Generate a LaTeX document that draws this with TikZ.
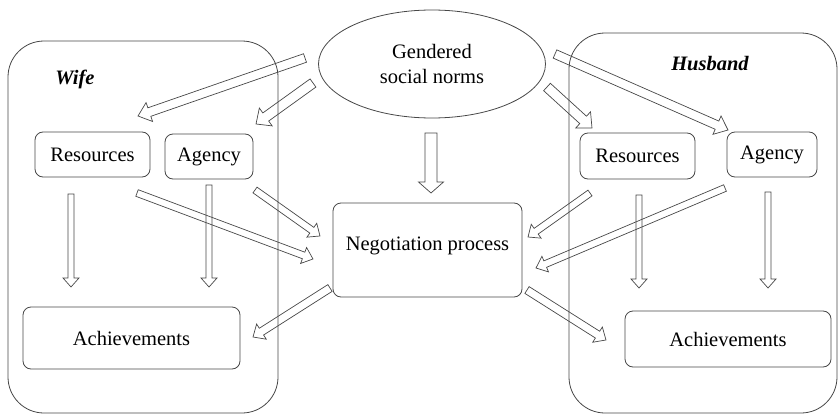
\documentclass[tikz,border=0pt]{standalone}
\usepackage{fontspec}
\setmainfont{Liberation Serif}
\usetikzlibrary{calc,shapes.geometric}
\newcommand{\dfont}{\fontsize{20.5}{25}\selectfont}
\tikzset{
  lc/.style={draw=black!72, line width=0.8pt},
  container/.style={lc, rounded corners=36pt},
  box/.style={lc, rounded corners=8pt, inner sep=0pt, align=center},
  arr/.style={draw=black!72, line width=0.7pt, line join=miter},
  lbl/.style={font=\dfont\bfseries\itshape}
}
\newcommand{\barrow}[5]{%
  \draw[arr] let \p1=(#1),\p2=(#2),\n1={atan2(\y2-\y1,\x2-\x1)},\n2={veclen(\x2-\x1,\y2-\y1)} in
  {[shift={(\p1)},rotate=\n1] (0pt,#3pt) -- (\n2-#5pt,#3pt) -- (\n2-#5pt,#4pt) -- (\n2,0pt) -- (\n2-#5pt,-#4pt) -- (\n2-#5pt,-#3pt) -- (0pt,-#3pt) -- cycle};}
\begin{document}
\begin{tikzpicture}[x=1pt,y=-1pt,font=\dfont]
\useasboundingbox (0,0) rectangle (838,415);
% containers
\draw[container] (8,41) rectangle (278,413);
\draw[container] (569,33) rectangle (837,413);
\node[lbl] (wife) at (75,79) {Wife};
\node[lbl] (husband) at (710,64) {Husband};
% nodes
\node[lc, ellipse, minimum width=227pt, minimum height=108pt, inner sep=0pt, align=center] (norms) at (432,64) {Gendered\\social norms};
\node[box, minimum width=115pt, minimum height=45pt] (wres) at (92.5,154.5) {Resources};
\node[box, minimum width=88pt, minimum height=45pt] (wag) at (209,156.5) {Agency};
\node[box, minimum width=115pt, minimum height=46pt] (hres) at (637.5,156) {Resources};
\node[box, minimum width=90pt, minimum height=45pt] (hag) at (772,154.5) {Agency};
\node[box, minimum width=189pt, minimum height=94pt] (neg) at (427.5,250) {};
\node (negtxt) at (427.5,246) {Negotiation process};
\node[box, minimum width=217pt, minimum height=62pt] (wach) at (131.5,338) {Achievements};
\node[box, minimum width=206pt, minimum height=56pt] (hach) at (728,339) {Achievements};
% connector end points
\coordinate (a1s) at (305,58);   \coordinate (a1e) at (138,116);
\coordinate (a2s) at (313,83);   \coordinate (a2e) at (256,124);
\coordinate (a3s) at (547,87);   \coordinate (a3e) at (592,128);
\coordinate (a4s) at (555,54);   \coordinate (a4e) at (728,130);
\coordinate (a5s) at (431,133);  \coordinate (a5e) at (431,193);
\coordinate (a6s) at (137,193);  \coordinate (a6e) at (313,259);
\coordinate (a7s) at (255,190);  \coordinate (a7e) at (320,236);
\coordinate (a8s) at (71,194);   \coordinate (a8e) at (71,287);
\coordinate (a9s) at (209,185);  \coordinate (a9e) at (209,287);
\coordinate (a10s) at (330,288); \coordinate (a10e) at (253,337);
\coordinate (a11s) at (590,193); \coordinate (a11e) at (528,237);
\coordinate (a12s) at (725,188); \coordinate (a12e) at (536,268);
\coordinate (a13s) at (639,195); \coordinate (a13e) at (639,288);
\coordinate (a14s) at (768,192); \coordinate (a14e) at (768,288);
\coordinate (a15s) at (527,290); \coordinate (a15e) at (606,340);
% block arrows
\barrow{a1s}{a1e}{4.5}{10}{12}
\barrow{a2s}{a2e}{5}{11}{12}
\barrow{a3s}{a3e}{5}{11}{12}
\barrow{a4s}{a4e}{4.5}{10}{12}
\barrow{a5s}{a5e}{6}{12.5}{11}
\barrow{a6s}{a6e}{3.5}{8.5}{10}
\barrow{a7s}{a7e}{3.5}{8.5}{10}
\barrow{a8s}{a8e}{3}{8}{9}
\barrow{a9s}{a9e}{3}{8}{9}
\barrow{a10s}{a10e}{4}{9}{10}
\barrow{a11s}{a11e}{3.5}{8.5}{10}
\barrow{a12s}{a12e}{3.5}{8.5}{10}
\barrow{a13s}{a13e}{3}{8}{9}
\barrow{a14s}{a14e}{3}{8}{9}
\barrow{a15s}{a15e}{4}{9}{10}
\end{tikzpicture}
\end{document}
